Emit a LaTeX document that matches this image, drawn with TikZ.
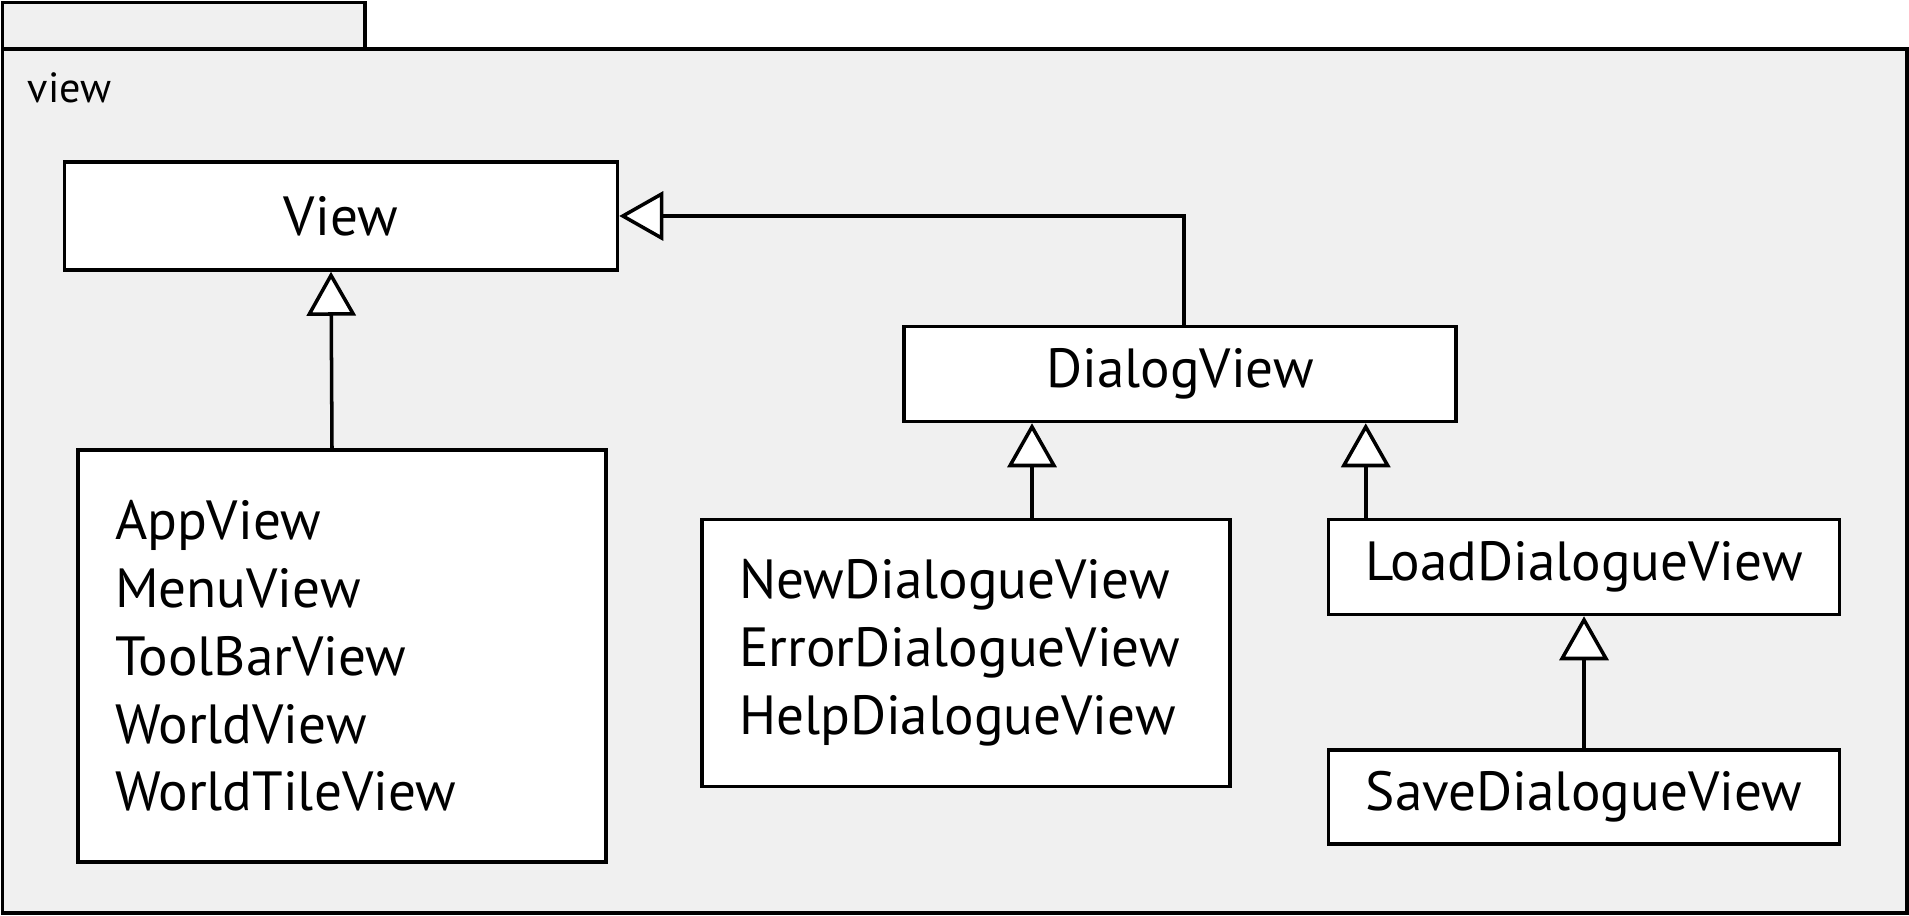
\documentclass[tikz,border=0pt]{standalone}
\usepackage{fontspec}
\setmainfont{PT Sans}
\usetikzlibrary{positioning}
\usetikzlibrary{arrows.meta, calc}

\definecolor{pkggray}{HTML}{F0F0F0}
\tikzset{
  classbox/.style={draw, line width=1pt, fill=white, font=\fontsize{15.7}{19.3}\selectfont},
  listbox/.style={classbox, align=left, inner xsep=0.37cm},
  inherit/.style={line width=1pt, -{Triangle[length=4.4mm, width=4.9mm, fill=white]}},
}

\begin{document}
\begin{tikzpicture}
\useasboundingbox (0,0) rectangle (19.09,-9.16);
% draw package
\draw[line width=1pt, fill=pkggray] (0.024,-0.024) rectangle (3.65,-0.49);
\draw[line width=1pt, fill=pkggray] (0.024,-0.49) rectangle (19.07,-9.13);
\node[anchor=base west, inner sep=0, font=\fontsize{12}{14}\selectfont] (pkg) at (0.27,-1.03) {view};

% draw classes
\node[classbox, minimum width=5.53cm, minimum height=1.08cm] (View) at (3.41,-2.16) {View};
\node[classbox, minimum width=5.52cm, minimum height=0.95cm] (dialog) at (11.80,-3.74) {DialogView};
\node[listbox, text width=4.54cm, minimum height=4.12cm] (apps) at (3.42,-6.56)
  {AppView\\MenuView\\ToolBarView\\WorldView\\WorldTileView};
\node[listbox, text width=4.54cm, minimum height=2.67cm] (dialogs) at (9.66,-6.53)
  {NewDialogueView\\ErrorDialogueView\\HelpDialogueView};
\node[classbox, minimum width=5.11cm, minimum height=0.95cm] (load) at (15.84,-5.67) {LoadDialogueView};
\node[classbox, minimum width=5.11cm, minimum height=0.94cm] (save) at (15.84,-7.97) {SaveDialogueView};

% draw generalisations
\draw[inherit] ([xshift=-1mm]apps.north) -- ([xshift=-1mm]View.south);
\draw[inherit] ([xshift=0.4mm]dialog.north) |- (View.east);
\coordinate[right=0.66cm of dialogs.north] (d1);
\draw[inherit] (d1) -- (d1 |- dialog.south);
\coordinate[right=0.39cm of load.north west] (d2);
\draw[inherit] (d2) -- (d2 |- dialog.south);
\draw[inherit] (save.north) -- (load.south);

\end{tikzpicture}
\end{document}
